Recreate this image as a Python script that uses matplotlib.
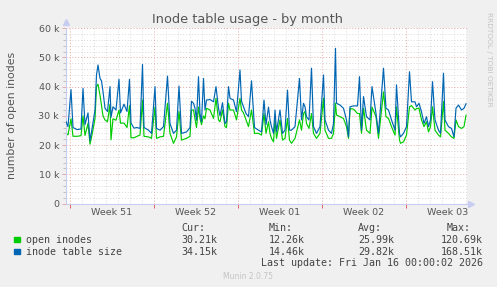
import matplotlib
matplotlib.use("Agg")
import matplotlib.pyplot as plt
from matplotlib.ticker import MultipleLocator, FixedLocator, FixedFormatter, NullFormatter

# ---- data (hours since Mon 15 Dec 2025 00:00, values in thousands) ----
hours = [-8, -4, 2, 6, 14, 22, 26, 30, 36, 40, 44, 50, 53, 56, 60, 63, 66, 70, 75, 80,
         82, 86, 92, 98, 101, 108, 114, 119, 122, 128, 134, 140, 145, 148, 157, 163, 170, 173, 180, 187,
         195, 200, 207, 213, 218, 223, 233, 240, 243, 247, 250, 253, 257, 260, 263, 267, 270, 273, 280, 287,
         292, 297, 300, 305, 310, 313, 317, 320, 327, 333, 340, 343, 347, 352, 357, 363, 369, 377, 383, 388,
         392, 397, 400, 403, 407, 410, 413, 420, 425, 430, 435, 439, 443, 450, 459, 463, 467, 470, 473, 478,
         483, 487, 493, 500, 507, 510, 517, 523, 527, 531, 533, 540, 547, 553, 557, 560, 567, 575, 579, 583,
         587, 593, 600, 604, 612, 617, 627, 632, 637, 643, 650, 653, 659, 661, 667, 673, 679, 683, 690, 693,
         698, 703, 708, 713, 717, 721, 725, 730, 737, 741, 747, 750, 757, 763, 768, 772, 777, 783, 788, 792]

table_size = [28.0, 26.3, 39.0, 26.0, 25.3, 25.5, 39.4, 27.0, 31.0, 21.5, 25.5, 32.0, 44.0, 47.4, 42.8, 42.0, 38.3, 32.6, 31.5, 40.0,
              29.5, 33.1, 32.0, 42.5, 31.0, 34.0, 31.5, 42.5, 27.5, 25.8, 26.0, 25.7, 47.6, 26.0, 25.1, 24.0, 40.0, 25.7, 25.1, 26.3,
              43.6, 27.4, 24.0, 25.1, 40.2, 24.0, 24.5, 26.0, 35.0, 34.3, 32.6, 28.5, 43.4, 30.8, 28.0, 42.8, 32.0, 35.4, 35.6, 34.8,
              40.0, 32.6, 30.0, 34.5, 27.4, 28.0, 40.0, 36.0, 35.4, 31.4, 45.7, 35.0, 33.1, 30.8, 29.7, 42.0, 26.0, 25.1, 24.5, 35.4,
              27.0, 33.0, 28.6, 26.3, 24.0, 32.0, 24.5, 32.0, 24.0, 25.1, 38.8, 25.1, 25.1, 26.3, 42.8, 28.6, 34.3, 33.1, 29.7, 28.6,
              46.3, 26.3, 24.0, 26.3, 44.0, 28.6, 25.1, 24.0, 27.4, 53.1, 34.3, 33.7, 32.6, 28.6, 22.8, 33.1, 33.4, 33.4, 43.4, 25.1,
              36.6, 29.7, 28.6, 40.0, 30.8, 24.0, 46.3, 32.6, 32.0, 28.6, 25.1, 40.6, 24.0, 22.8, 24.0, 26.3, 45.1, 34.8, 34.8, 33.1,
              34.3, 31.4, 27.4, 29.7, 26.3, 28.6, 41.7, 28.6, 25.1, 24.0, 44.6, 28.6, 26.3, 25.7, 22.8, 32.6, 33.7, 32.0, 32.6, 34.15]

open_inodes = [24.0, 23.5, 29.0, 23.0, 23.0, 23.2, 30.0, 23.3, 27.4, 20.3, 23.5, 29.0, 40.0, 40.8, 37.1, 33.5, 30.0, 28.6, 28.0, 34.0,
               21.8, 29.0, 28.5, 32.0, 27.5, 27.5, 26.0, 33.5, 22.5, 22.5, 23.0, 23.4, 35.4, 23.0, 22.8, 22.3, 33.0, 22.3, 22.8, 23.0,
               34.3, 24.0, 20.6, 22.8, 31.5, 21.7, 22.3, 23.0, 32.0, 32.0, 29.1, 26.0, 33.0, 29.1, 27.0, 30.0, 29.0, 32.6, 32.0, 29.1,
               36.0, 28.6, 28.0, 32.0, 26.3, 26.0, 34.3, 32.0, 32.0, 28.6, 36.0, 32.0, 31.0, 28.6, 26.3, 32.0, 24.0, 24.0, 23.4, 30.8,
               24.0, 28.0, 24.0, 22.3, 21.1, 28.6, 22.3, 28.6, 21.7, 22.3, 29.1, 21.7, 20.6, 22.3, 28.6, 25.1, 30.8, 31.5, 27.4, 25.7,
               30.8, 24.0, 22.3, 24.0, 36.0, 25.1, 22.3, 22.3, 24.0, 34.3, 30.3, 29.7, 29.1, 26.3, 22.3, 32.5, 32.3, 30.8, 30.8, 24.0,
               32.6, 25.1, 24.0, 33.0, 29.7, 22.3, 38.2, 29.7, 29.1, 26.3, 23.4, 33.1, 21.7, 20.6, 21.1, 23.4, 33.1, 33.5, 32.0, 32.5,
               32.6, 28.6, 26.3, 28.0, 24.5, 26.3, 33.1, 25.1, 23.4, 22.8, 34.9, 25.1, 24.0, 22.8, 22.3, 28.6, 26.3, 25.7, 26.3, 30.21]

week_starts = [0, 168, 336, 504, 672]
week_labels = ["Week 51", "Week 52", "Week 01", "Week 02", "Week 03"]
y_ticks = [0, 10, 20, 30, 40, 50, 60]
y_labels = ["0", "10 k", "20 k", "30 k", "40 k", "50 k", "60 k"]

series_names = ["open inodes", "inode table size"]
series_colors = ["#00CC00", "#0066B3"]
stat_cur = ["30.21k", "34.15k"]
stat_min = ["12.26k", "14.46k"]
stat_avg = ["25.99k", "29.82k"]
stat_max = ["120.69k", "168.51k"]

# ---- figure ----
W, H = 497, 287
fig = plt.figure(figsize=(W / 100, H / 100), dpi=100, facecolor="#F0F0F0")
ax = fig.add_axes([66 / W, 1 - 203.5 / H, 401 / W, 175.3 / H])
ax.set_facecolor("white")

TXT = "#555555"
MINOR = "#D9D9D9"
MAJOR = "#E8A8A8"
AXIS = "#C8CCF0"

ax.set_xlim(-8, 794)
ax.set_ylim(0, 60)

# grid
for h in range(0, 800, 24):
    if h not in week_starts:
        ax.axvline(h, color=MINOR, lw=0.7, ls=(0, (1, 2)), zorder=0)
for v in range(2, 60, 2):
    if v % 10:
        ax.axhline(v, color=MINOR, lw=0.7, ls=(0, (1, 2)), zorder=0)
for h in week_starts:
    ax.axvline(h, color=MAJOR, lw=0.7, ls=(0, (1, 2)), zorder=0.5)
for v in y_ticks[1:]:
    ax.axhline(v, color=MAJOR, lw=0.7, ls=(0, (1, 2)), zorder=0.5)

# data (munin draws the second field on top)
ax.plot(hours, open_inodes, color=series_colors[0], lw=0.85, zorder=2)
ax.plot(hours, table_size, color=series_colors[1], lw=0.85, zorder=3)

# spines / ticks
for s in ["top", "right"]:
    ax.spines[s].set_visible(False)
for s in ["left", "bottom"]:
    ax.spines[s].set_color(AXIS)
    ax.spines[s].set_linewidth(0.8)

ax.yaxis.set_major_locator(FixedLocator(y_ticks))
ax.yaxis.set_major_formatter(FixedFormatter(y_labels))
ax.yaxis.set_minor_locator(MultipleLocator(2))
ax.xaxis.set_major_locator(FixedLocator(week_starts))
ax.xaxis.set_major_formatter(NullFormatter())
ax.xaxis.set_minor_locator(FixedLocator([w + 84 for w in week_starts]))
ax.xaxis.set_minor_formatter(FixedFormatter(week_labels))
ax.tick_params(axis="y", which="major", length=3, width=0.7, color=MAJOR,
               labelsize=6.8, labelcolor=TXT, pad=2)
ax.tick_params(axis="y", which="minor", length=2, width=0.6, color="#B8B8B8")
ax.tick_params(axis="x", which="major", length=3, width=0.7, color="#E06060")
ax.tick_params(axis="x", which="minor", length=0, labelsize=6.8, labelcolor=TXT, pad=3)

# arrows
ax.plot([0], [1.035], marker="^", ms=4, color=AXIS, transform=ax.transAxes, clip_on=False)
ax.plot([1.01], [0], marker=">", ms=4, color=AXIS, transform=ax.transAxes, clip_on=False)

# title & labels
fig.text(248 / W, 1 - 19 / H, "Inode table usage - by month", ha="center", va="center",
         fontsize=9.3, color=TXT)
fig.text(12 / W, 1 - 115 / H, "number of open inodes", rotation=90, ha="center", va="center",
         fontsize=7.8, color=TXT)
fig.text(489 / W, 1 - 12 / H, "RRDTOOL / TOBI OETIKER", rotation=270, ha="center", va="top",
         fontsize=5.3, color="#C4C4C4")

# legend
mono = dict(family="DejaVu Sans Mono", fontsize=7.2, color="#444444", va="center")
row_y = [239.7, 251.7]
fig.text(181 / W, 1 - 228 / H, "Cur:", ha="left", **mono)
fig.text(269 / W, 1 - 228 / H, "Min:", ha="left", **mono)
fig.text(358 / W, 1 - 228 / H, "Avg:", ha="left", **mono)
fig.text(447 / W, 1 - 228 / H, "Max:", ha="left", **mono)
for i in range(2):
    yy = 1 - row_y[i] / H
    fig.patches.append(plt.Rectangle((14 / W, yy - 2.7 / H), 5.5 / W, 5.5 / H,
                                     transform=fig.transFigure, color=series_colors[i]))
    fig.text(26 / W, yy, series_names[i], ha="left", **mono)
    fig.text(217 / W, yy, stat_cur[i], ha="right", **mono)
    fig.text(305 / W, yy, stat_min[i], ha="right", **mono)
    fig.text(394 / W, yy, stat_avg[i], ha="right", **mono)
    fig.text(483 / W, yy, stat_max[i], ha="right", **mono)
fig.text(483 / W, 1 - 263.3 / H, "Last update: Fri Jan 16 00:00:02 2026", ha="right", **mono)
fig.text(248 / W, 1 - 276.5 / H, "Munin 2.0.75", ha="center", va="center", fontsize=5.5,
         color="#C4C4C4")

fig.savefig("out.png", dpi=100, facecolor=fig.get_facecolor())
